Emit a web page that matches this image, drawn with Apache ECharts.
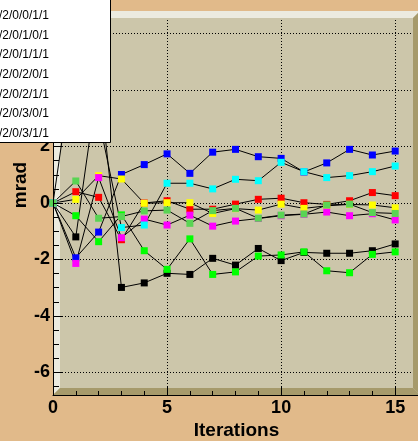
<!DOCTYPE html>
<html>
<head>
<meta charset="utf-8">
<script src="https://cdn.jsdelivr.net/npm/echarts@6/dist/echarts.min.js"></script>
<style>
  html, body { margin: 0; padding: 0; background: #e1ba8a; }
  #chart { width: 418px; height: 441px; }
</style>
</head>
<body>
<div id="chart"></div>
<script>
// Iteration index on the x axis
const iterations = [0, 1, 2, 3, 4, 5, 6, 7, 8, 9, 10, 11, 12, 13, 14, 15];

// Legend entries, one per alignment parameter
const legendLabels = ['/2/0/0/0/1', '/2/0/0/1/1', '/2/0/1/0/1', '/2/0/1/1/1',
                      '/2/0/2/0/1', '/2/0/2/1/1', '/2/0/3/0/1', '/2/0/3/1/1'];

// Marker colours (ROOT palette 1..8)
const markerColors = ['#000000', '#ff0000', '#00ff00', '#0000ff',
                      '#ffff00', '#ff00ff', '#00ffff', '#59d454'];

// Parameter value per iteration, mrad
const par0 = [0, -1.20, 4.50, -2.99, -2.83, -2.49, -2.53, -1.96, -2.20, -1.61, -2.04, -1.75, -1.78, -1.78, -1.69, -1.45];
const par1 = [0, 0.40, 0.20, -1.30, 0.00, 0.08, -0.22, -0.22, -0.04, 0.13, 0.17, 0.01, -0.05, 0.08, 0.37, 0.26];
const par2 = [0, -0.45, -1.37, -0.42, -1.69, -2.35, -1.27, -2.53, -2.44, -1.88, -1.84, -1.73, -2.40, -2.47, -1.82, -1.73];
const par3 = [0, -1.94, -1.03, 1.01, 1.36, 1.74, 1.05, 1.80, 1.90, 1.64, 1.58, 1.10, 1.42, 1.90, 1.70, 1.84];
const par4 = [0, 0.13, 0.97, 0.85, -0.01, 0.01, 0.01, -0.37, -0.20, -0.25, -0.04, -0.19, -0.10, -0.05, -0.07, -0.17];
const par5 = [0, -2.14, 0.90, -1.23, -0.57, -0.78, -0.43, -0.82, -0.64, -0.55, -0.45, -0.40, -0.32, -0.45, -0.38, -0.60];
const par6 = [0, 5.60, 3.00, -0.87, -0.78, 0.70, 0.70, 0.50, 0.84, 0.79, 1.44, 1.11, 0.90, 0.97, 1.11, 1.31];
const par7 = [0, 0.78, -0.54, -0.48, -0.28, -0.25, -0.72, -0.27, -0.19, -0.54, -0.43, -0.39, -0.07, -0.04, -0.34, -0.37];

const allParams = [par0, par1, par2, par3, par4, par5, par6, par7];

// Axis ranges and tick values
const xMin = 0, xMax = 16, xInterval = 5;
const yMin = -6.8, yMax = 6.8;
const yMajorTicks = [-6, -4, -2, 0, 2, 4, 6];
const yMinorTicks = [-6.5, -5.5, -5, -4.5, -3.5, -3, -2.5, -1.5, -1, -0.5,
                     0.5, 1, 1.5, 2.5, 3, 3.5, 4.5, 5, 5.5, 6.5];

// Frame layout
const frame = { left: 53, top: 11, width: 367, height: 384 };
const bevel = 7;
const FONT = '"Liberation Sans", Arial, Helvetica, sans-serif';

const chart = echarts.init(document.getElementById('chart'), null, { renderer: 'canvas' });

const L = frame.left, T = frame.top, R = frame.left + frame.width, B = frame.top + frame.height;

const frameGraphics = [
  { type: 'rect', z: -2, silent: true,
    shape: { x: L, y: T, width: frame.width, height: frame.height },
    style: { fill: '#ccc6aa' } },
  // light bevel: left + top
  { type: 'polygon', z: 1, silent: true,
    shape: { points: [[L, T], [L + bevel, T + bevel], [L + bevel, B - bevel], [L, B]] },
    style: { fill: '#ecebe0' } },
  { type: 'polygon', z: 1, silent: true,
    shape: { points: [[L, T], [R, T], [R - bevel, T + bevel], [L + bevel, T + bevel]] },
    style: { fill: '#ecebe0' } },
  // dark bevel: right + bottom
  { type: 'polygon', z: 1, silent: true,
    shape: { points: [[R, T], [R, B], [R - bevel, B - bevel], [R - bevel, T + bevel]] },
    style: { fill: '#a69a6b' } },
  { type: 'polygon', z: 1, silent: true,
    shape: { points: [[L, B], [R, B], [R - bevel, B - bevel], [L + bevel, B - bevel]] },
    style: { fill: '#a69a6b' } }
];

const legendGraphics = [
  { type: 'rect', z: 20, silent: true,
    shape: { x: -9.5, y: -9.5, width: 120, height: 152 },
    style: { fill: '#ffffff', stroke: '#000000', lineWidth: 1 } }
].concat(legendLabels.map((t, i) => ({
  type: 'text', z: 21, silent: true,
  x: -1, y: -3.8 + i * 19.6,
  style: { text: t, fill: '#000000', font: '12px ' + FONT, align: 'left', verticalAlign: 'middle' }
})));

const titleGraphics = [
  { type: 'text', z: 5, silent: true, x: 236.5, y: 431,
    style: { text: 'Iterations', fill: '#000', font: 'bold 19px ' + FONT, align: 'center', verticalAlign: 'middle' } },
  { type: 'text', z: 5, silent: true, x: 21, y: 185, rotation: Math.PI / 2,
    style: { text: 'mrad', fill: '#000', font: 'bold 19px ' + FONT, align: 'center', verticalAlign: 'middle' } }
];

const dotted = { color: '#000', width: 1, type: [1, 2] };
const labelFont = { color: '#000', fontFamily: FONT, fontWeight: 'bold', fontSize: 18 };

const option = {
  backgroundColor: '#e1ba8a',
  animation: false,
  grid: { left: frame.left, top: frame.top, width: frame.width, height: frame.height, show: false },
  xAxis: [
    { // grid lines
      type: 'value', min: xMin, max: xMax, interval: xInterval, position: 'bottom', z: 0,
      axisLine: { show: false }, axisTick: { show: false }, axisLabel: { show: false },
      splitLine: { show: true, lineStyle: dotted }
    },
    { // axis line, ticks, labels
      type: 'value', min: xMin, max: xMax, interval: xInterval, position: 'bottom', offset: 0, z: 3,
      axisLine: { show: true, onZero: false, lineStyle: { color: '#000', width: 1 } },
      axisTick: { show: true, inside: true, length: 8, lineStyle: { color: '#000', width: 1 } },
      minorTick: { show: true, splitNumber: 5, length: 4, lineStyle: { color: '#000', width: 1 } },
      axisLabel: Object.assign({ show: true, margin: 4, showMaxLabel: false }, labelFont),
      splitLine: { show: false }
    }
  ],
  yAxis: [
    { // grid lines
      type: 'value', min: yMin, max: yMax, position: 'left', z: 0,
      axisLine: { show: false },
      axisTick: { show: false, customValues: yMajorTicks },
      axisLabel: { show: false, customValues: yMajorTicks },
      splitLine: { show: true, lineStyle: dotted }
    },
    { // axis line, major ticks, labels
      type: 'value', min: yMin, max: yMax, position: 'left', offset: 0, z: 3,
      axisLine: { show: true, onZero: false, lineStyle: { color: '#000', width: 1 } },
      axisTick: { show: true, inside: true, length: 9, customValues: yMajorTicks, lineStyle: { color: '#000', width: 1 } },
      axisLabel: Object.assign({ show: true, margin: 3, customValues: yMajorTicks }, labelFont),
      splitLine: { show: false }
    },
    { // minor ticks
      type: 'value', min: yMin, max: yMax, position: 'left', offset: 0, z: 3,
      axisLine: { show: false },
      axisTick: { show: true, inside: true, length: 6, customValues: yMinorTicks, lineStyle: { color: '#000', width: 1 } },
      axisLabel: { show: false, customValues: yMinorTicks },
      splitLine: { show: false }
    }
  ],
  series: allParams.map((vals, i) => ({
    type: 'line',
    name: legendLabels[i],
    xAxisIndex: 0, yAxisIndex: 0,
    z: 2,
    data: iterations.map((it, k) => [it, vals[k]]),
    symbol: 'rect',
    symbolSize: 7,
    showAllSymbol: true,
    lineStyle: { color: '#000', width: 1 },
    itemStyle: { color: markerColors[i] },
    emphasis: { disabled: true }
  })),
  graphic: frameGraphics.concat(titleGraphics, legendGraphics)
};

chart.setOption(option);
</script>
</body>
</html>
